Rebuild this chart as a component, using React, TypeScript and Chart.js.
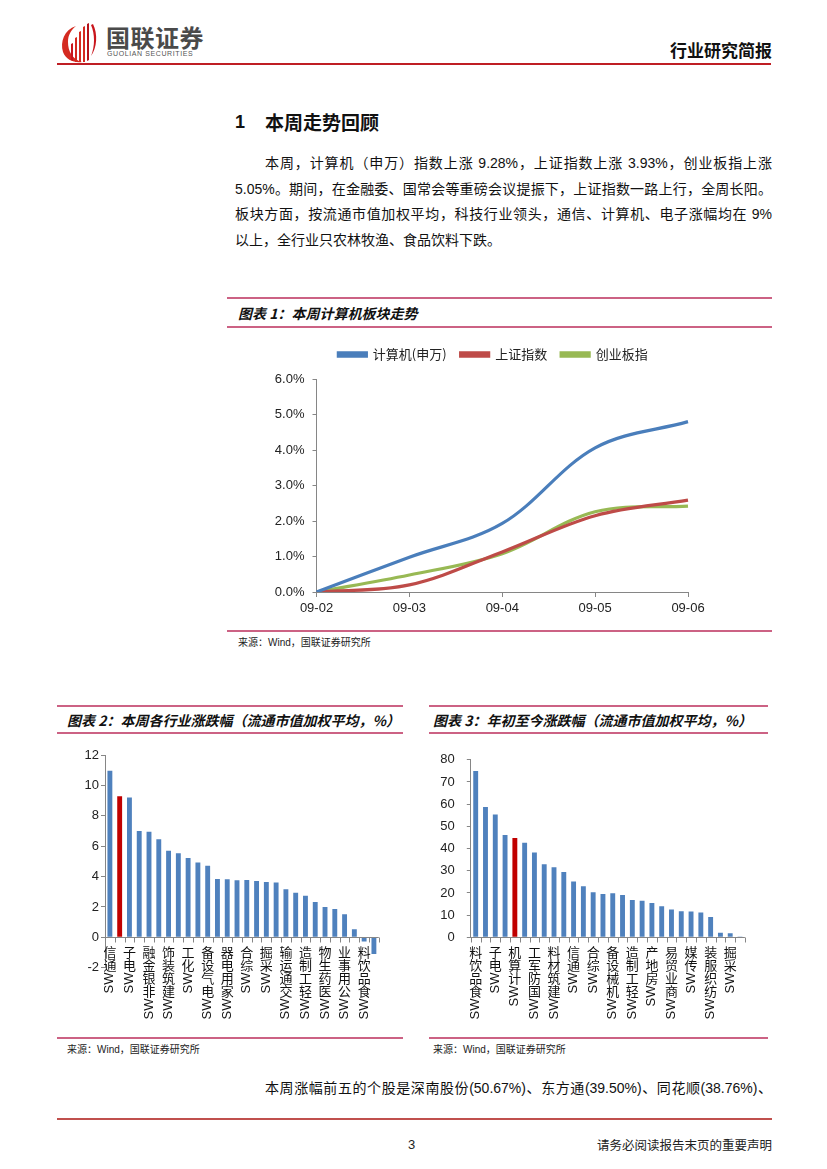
import React, { useEffect, useRef } from 'react';
import { Chart, registerables } from 'chart.js';

Chart.register(...registerables);

// ---------- Data ----------
const trendDates = ['09-02', '09-03', '09-04', '09-05', '09-06'];
const trendComputer = [0, 0.98, 1.93, 4.06, 4.8];
const trendShanghai = [0, 0.2, 1.13, 2.15, 2.59];
const trendChiNext = [0, 0.48, 1.08, 2.26, 2.42];
const trendSeriesNames = ['计算机(申万)', '上证指数', '创业板指'];
const trendTicks = [0, 1, 2, 3, 4, 5, 6];

const weekCats = ['SW通信', 'SW计算机', 'SW电子', 'SW传媒', 'SW非银金融', 'SW国防军工', 'SW建筑装饰', 'SW有色金属', 'SW化工', 'SW机械设备', 'SW电气设备', 'SW建筑材料', 'SW家用电器', 'SW汽车', 'SW综合', 'SW钢铁', 'SW采掘', 'SW房地产', 'SW交通运输', 'SW商业贸易', 'SW轻工制造', 'SW休闲服务', 'SW医药生物', 'SW纺织服装', 'SW公用事业', 'SW银行', 'SW食品饮料', 'SW农林牧渔'];
const weekVals = [10.96, 9.28, 9.2, 7.0, 6.95, 6.45, 5.7, 5.53, 5.22, 4.93, 4.71, 3.84, 3.83, 3.75, 3.77, 3.7, 3.64, 3.6, 3.16, 2.94, 2.74, 2.32, 2.0, 1.86, 1.51, 0.53, -0.28, -1.1];
const weekTicks = { min: -2, max: 12, step: 2 };

const ytdCats = ['SW食品饮料', 'SW家用电器', 'SW电子', 'SW农林牧渔', 'SW计算机', 'SW非银金融', 'SW国防军工', 'SW休闲服务', 'SW建筑材料', 'SW医药生物', 'SW通信', 'SW电气设备', 'SW综合', 'SW有色金属', 'SW机械设备', 'SW银行', 'SW轻工制造', 'SW汽车', 'SW房地产', 'SW化工', 'SW商业贸易', 'SW公用事业', 'SW传媒', 'SW交通运输', 'SW纺织服装', 'SW钢铁', 'SW采掘', 'SW建筑装饰'];
const ytdVals = [74.9, 58.7, 55.4, 46.1, 44.8, 42.6, 38.2, 32.9, 31.6, 29.4, 25.1, 23.0, 20.3, 19.5, 19.8, 19.1, 16.8, 16.5, 15.5, 14.0, 12.5, 11.7, 11.6, 11.2, 9.2, 2.0, 1.8, 0.4];
const ytdTicks = { min: 0, max: 80, step: 10 };

const highlightCat = 'SW计算机';
const labelEvery = 2;

// ---------- Styles ----------
const CJK = '"Noto Sans CJK SC", sans-serif';
const LAT = '"Liberation Sans", Arial, "Noto Sans CJK SC", sans-serif';
const AXIS = '#868686';
const BLUE = '#4F81BD';
const RED = '#C00000';
const BOXLINE = '#cc6284';

// ---------- Line chart ----------
function TrendChart() {
  const ref = useRef<HTMLCanvasElement>(null);
  useEffect(() => {
    const legendTweak = {
      id: 'legendTweak',
      afterInit(chart: any) {
        const lg = chart.legend;
        if (!lg) return;
        const f = lg.fit;
        lg.fit = function () {
          f.call(this);
          this.height += 8;
        };
      },
      afterLayout(chart: any) {
        const lg = chart.legend;
        if (!lg) return;
        lg.left += 35;
        lg.right += 35;
      },
    };
    const mk = (label: string, data: number[], color: string) => ({
      label,
      data,
      borderColor: color,
      backgroundColor: color,
      borderWidth: 3.2,
      pointRadius: 0,
      tension: 0.35,
      fill: false,
    });
    const chart = new Chart(ref.current as HTMLCanvasElement, {
      type: 'line',
      data: {
        labels: trendDates,
        datasets: [
          mk(trendSeriesNames[0], trendComputer, '#4A7EBB'),
          mk(trendSeriesNames[1], trendShanghai, '#BE4B48'),
          mk(trendSeriesNames[2], trendChiNext, '#98B954'),
        ],
      },
      options: {
        animation: false,
        responsive: false,
        layout: { padding: { left: 0, right: 84, top: 0, bottom: 0 } },
        plugins: {
          legend: {
            position: 'top',
            labels: {
              boxWidth: 28,
              boxHeight: 3.5,
              padding: 14,
              color: '#222',
              font: { family: CJK, size: 13 },
            },
          },
          tooltip: { enabled: false },
        },
        scales: {
          x: {
            offset: false,
            grid: { display: true, drawOnChartArea: false, drawTicks: true, tickLength: 5, color: AXIS },
            border: { display: true, color: AXIS },
            ticks: { padding: 4, color: '#222', font: { family: LAT, size: 13 }, maxRotation: 0, autoSkip: false },
            afterFit: (s: any) => {
              s.height = 30;
            },
          },
          y: {
            min: trendTicks[0],
            max: trendTicks[trendTicks.length - 1],
            afterBuildTicks: (s: any) => {
              s.ticks = trendTicks.map((v) => ({ value: v }));
            },
            grid: { display: true, drawOnChartArea: false, drawTicks: true, tickLength: 4, color: AXIS },
            border: { display: true, color: AXIS },
            ticks: {
              padding: 8,
              color: '#222',
              font: { family: LAT, size: 13 },
              callback: (v: any) => Number(v).toFixed(1) + '%',
            },
            afterFit: (s: any) => {
              s.width = 88.5;
            },
          },
        },
      } as any,
      plugins: [legendTweak],
    });
    return () => chart.destroy();
  }, []);
  return (
    <canvas
      ref={ref}
      width={544}
      height={288}
      style={{ position: 'absolute', left: 228, top: 334, width: 544, height: 288 }}
    />
  );
}

// ---------- Bar chart ----------
const catAxisPlugin = {
  id: 'catAxis',
  afterDatasetsDraw(chart: any) {
    const { ctx, chartArea, scales } = chart;
    const xs = scales.x;
    const ys = scales.y;
    const labels = chart.data.labels as string[];
    const y0 = Math.round(ys.getPixelForValue(0)) + 0.5;
    const c0 = xs.getPixelForValue(0);
    const step = xs.getPixelForValue(1) - c0;
    ctx.save();
    ctx.strokeStyle = AXIS;
    ctx.lineWidth = 1;
    ctx.beginPath();
    ctx.moveTo(chartArea.left, y0);
    ctx.lineTo(chartArea.right, y0);
    for (let i = 0; i <= labels.length; i++) {
      const px = Math.round(c0 + (i - 0.5) * step) + 0.5;
      ctx.moveTo(px, y0);
      ctx.lineTo(px, y0 + 5);
    }
    ctx.stroke();
    const fs = 13;
    ctx.fillStyle = '#111';
    labels.forEach((lab, i) => {
      if (i % labelEvery) return;
      const px = xs.getPixelForValue(i);
      const m = lab.match(/^([A-Za-z]+)(.*)$/);
      const latin = m ? m[1] : '';
      const cjk = m ? m[2] : lab;
      let yy = y0 + 8;
      ctx.font = `${fs}px "Noto Sans CJK SC"`;
      ctx.textAlign = 'center';
      ctx.textBaseline = 'middle';
      Array.from(cjk)
        .reverse()
        .forEach((ch) => {
          ctx.fillText(ch, px, yy + fs / 2);
          yy += fs;
        });
      ctx.save();
      ctx.translate(px, yy + 1);
      ctx.rotate(-Math.PI / 2);
      ctx.font = `${fs}px "Liberation Sans", Arial`;
      ctx.textAlign = 'right';
      ctx.textBaseline = 'middle';
      ctx.fillText(latin, 0, 0);
      ctx.restore();
    });
    ctx.restore();
  },
};

type BarProps = {
  cats: string[];
  vals: number[];
  range: { min: number; max: number; step: number };
  left: number;
  top: number;
  width: number;
  height: number;
  pad: { left: number; right: number; top: number; bottom: number };
  yWidth: number;
  yPad: number;
};

function BarChart(p: BarProps) {
  const ref = useRef<HTMLCanvasElement>(null);
  useEffect(() => {
    const chart = new Chart(ref.current as HTMLCanvasElement, {
      type: 'bar',
      data: {
        labels: p.cats,
        datasets: [
          {
            data: p.vals,
            backgroundColor: p.cats.map((c) => (c === highlightCat ? RED : BLUE)),
            borderWidth: 0,
            barPercentage: 0.5,
            categoryPercentage: 1,
          },
        ],
      },
      options: {
        animation: false,
        responsive: false,
        layout: { padding: p.pad },
        plugins: { legend: { display: false }, tooltip: { enabled: false } },
        scales: {
          x: { display: false, offset: true },
          y: {
            min: p.range.min,
            max: p.range.max,
            ticks: { stepSize: p.range.step, padding: p.yPad, color: '#222', font: { family: LAT, size: 13 } },
            grid: { display: true, drawOnChartArea: false, drawTicks: true, tickLength: 4, color: AXIS },
            border: { display: true, color: AXIS },
            afterFit: (s: any) => {
              s.width = p.yWidth;
            },
          },
        },
      } as any,
      plugins: [catAxisPlugin],
    });
    return () => chart.destroy();
  }, []);
  return (
    <canvas
      ref={ref}
      width={p.width}
      height={p.height}
      style={{ position: 'absolute', left: p.left, top: p.top, width: p.width, height: p.height }}
    />
  );
}

// ---------- Page helpers ----------
const abs = (s: React.CSSProperties): React.CSSProperties => ({ position: 'absolute', ...s });

function HLine({ x1, x2, y, color, h }: { x1: number; x2: number; y: number; color: string; h: number }) {
  return <div style={abs({ left: x1, top: y - h / 2, width: x2 - x1, height: h, background: color })} />;
}

function Line({ x, y, w, text, justify, size = 14 }: { x: number; y: number; w: number; text: string; justify?: boolean; size?: number }) {
  return (
    <div
      style={abs({
        left: x,
        top: y - 13,
        width: w,
        height: 26,
        lineHeight: '26px',
        fontSize: size,
        fontFamily: LAT,
        color: '#111',
        textAlign: justify ? 'justify' : 'left',
        textAlignLast: justify ? 'justify' : 'left',
        textAutospace: 'no-autospace',
      } as any)}
    >
      {text}
    </div>
  );
}

function BoxTitle({ x, y, text }: { x: number; y: number; text: string }) {
  return (
    <div
      style={abs({
        left: x,
        top: y - 10,
        height: 20,
        lineHeight: '20px',
        fontSize: 14,
        fontWeight: 700,
        fontStyle: 'italic',
        fontFamily: CJK,
        color: '#111',
        whiteSpace: 'nowrap',
      })}
    >
      {text}
    </div>
  );
}

function Source({ x, y }: { x: number; y: number }) {
  return (
    <div
      style={abs({
        left: x,
        top: y - 8,
        height: 16,
        lineHeight: '16px',
        fontSize: 10,
        fontFamily: LAT,
        color: '#222',
        whiteSpace: 'nowrap',
      })}
    >
      来源：Wind，国联证券研究所
    </div>
  );
}

function Logo() {
  return (
    <svg width="40" height="42" viewBox="0 0 40 42" style={abs({ left: 58, top: 22 })}>
      <path d="M18 4 C6 8 2 20 5 30 C8 38 16 41 24 40 C14 37 10 29 10 20 C10 13 13 8 18 4 Z" fill="#d42a20" />
      <path d="M13 38 L13 22 L15 21 L15 39 Z" fill="#c9161d" />
      <path d="M17 40 L17 16 L19 15 L19 40 Z" fill="#d42a20" />
      <path d="M21 40 L21 10 L23 9 L23 40 Z" fill="#d42a20" />
      <path d="M25 40 L25 5 L27 4 L27 40 Z" fill="#d42a20" />
      <path d="M29 39 L29 2 L31 1 L31 38 Z" fill="#b5121b" />
      <path d="M33 34 C37 24 37 12 33 3 L35 2 C40 12 39 26 33 34 Z" fill="#c9161d" />
    </svg>
  );
}

export default function App() {
  return (
    <div style={abs({ left: 0, top: 0, width: 827, height: 1169, background: '#fff', overflow: 'hidden' })}>
      {/* Header */}
      <Logo />
      <div style={abs({ left: 106, top: 22, fontSize: 24, lineHeight: '30px', fontWeight: 700, fontFamily: CJK, color: '#4a4a4a', whiteSpace: 'nowrap', letterSpacing: 0.5 })}>
        国联证券
      </div>
      <div style={abs({ left: 107, top: 49, fontSize: 7, lineHeight: '9px', fontFamily: LAT, color: '#555', whiteSpace: 'nowrap', letterSpacing: 0.6 })}>
        GUOLIAN SECURITIES
      </div>
      <div style={abs({ left: 660, top: 39, width: 112, textAlign: 'right', fontSize: 17, lineHeight: '22px', fontWeight: 700, fontFamily: CJK, color: '#111', whiteSpace: 'nowrap' })}>
        行业研究简报
      </div>
      <HLine x1={57} x2={771} y={64} h={2} color="#bf1e24" />

      {/* Section heading */}
      <div style={abs({ left: 235, top: 110, fontSize: 18, lineHeight: '24px', fontWeight: 700, fontFamily: LAT, color: '#111' })}>1</div>
      <div style={abs({ left: 265, top: 109, fontSize: 19, lineHeight: '26px', fontWeight: 700, fontFamily: CJK, color: '#111', whiteSpace: 'nowrap' })}>
        本周走势回顾
      </div>

      {/* Paragraph */}
      <Line x={265} y={163} w={507} justify text="本周，计算机（申万）指数上涨 9.28%，上证指数上涨 3.93%，创业板指上涨" />
      <Line x={235} y={189} w={537} justify text="5.05%。期间，在金融委、国常会等重磅会议提振下，上证指数一路上行，全周长阳。" />
      <Line x={235} y={214} w={537} justify text="板块方面，按流通市值加权平均，科技行业领头，通信、计算机、电子涨幅均在 9%" />
      <Line x={235} y={240} w={537} text="以上，全行业只农林牧渔、食品饮料下跌。" />

      {/* Figure 1 */}
      <HLine x1={227} x2={772} y={298} h={2} color={BOXLINE} />
      <BoxTitle x={238} y={313} text="图表 1：本周计算机板块走势" />
      <HLine x1={227} x2={772} y={327} h={2} color={BOXLINE} />
      <TrendChart />
      <HLine x1={227} x2={772} y={631} h={2} color={BOXLINE} />
      <Source x={238} y={643} />

      {/* Figure 2 */}
      <HLine x1={57} x2={403} y={706} h={2} color={BOXLINE} />
      <BoxTitle x={67} y={720} text="图表 2：本周各行业涨跌幅（流通市值加权平均，%）" />
      <HLine x1={57} x2={403} y={733} h={2} color={BOXLINE} />
      <BarChart
        cats={weekCats}
        vals={weekVals}
        range={weekTicks}
        left={58}
        top={740}
        width={345}
        height={295}
        pad={{ left: 7, right: 24.2, top: 15, bottom: 67.3 }}
        yWidth={40}
        yPad={2}
      />
      <HLine x1={57} x2={403} y={1038} h={2} color={BOXLINE} />
      <Source x={67} y={1050} />

      {/* Figure 3 */}
      <HLine x1={429} x2={768} y={706} h={2} color={BOXLINE} />
      <BoxTitle x={433} y={720} text="图表 3：年初至今涨跌幅（流通市值加权平均，%）" />
      <HLine x1={429} x2={768} y={733} h={2} color={BOXLINE} />
      <BarChart
        cats={ytdCats}
        vals={ytdVals}
        range={ytdTicks}
        left={430}
        top={740}
        width={338}
        height={295}
        pad={{ left: 5.8, right: 23.1, top: 14.3, bottom: 97.7 }}
        yWidth={35}
        yPad={12}
      />
      <HLine x1={429} x2={768} y={1038} h={2} color={BOXLINE} />
      <Source x={433} y={1050} />

      {/* Bottom paragraph */}
      <Line x={265} y={1088} w={507} justify text="本周涨幅前五的个股是深南股份(50.67%)、东方通(39.50%)、同花顺(38.76%)、" />
      <HLine x1={57} x2={772} y={1119} h={2} color="#c0504d" />

      {/* Footer */}
      <div style={abs({ left: 408, top: 1136, fontSize: 13, lineHeight: '18px', fontFamily: LAT, color: '#222' })}>3</div>
      <div style={abs({ left: 590, top: 1136, width: 182, textAlign: 'right', fontSize: 12.5, lineHeight: '18px', fontFamily: CJK, color: '#222', whiteSpace: 'nowrap' })}>
        请务必阅读报告末页的重要声明
      </div>
    </div>
  );
}
